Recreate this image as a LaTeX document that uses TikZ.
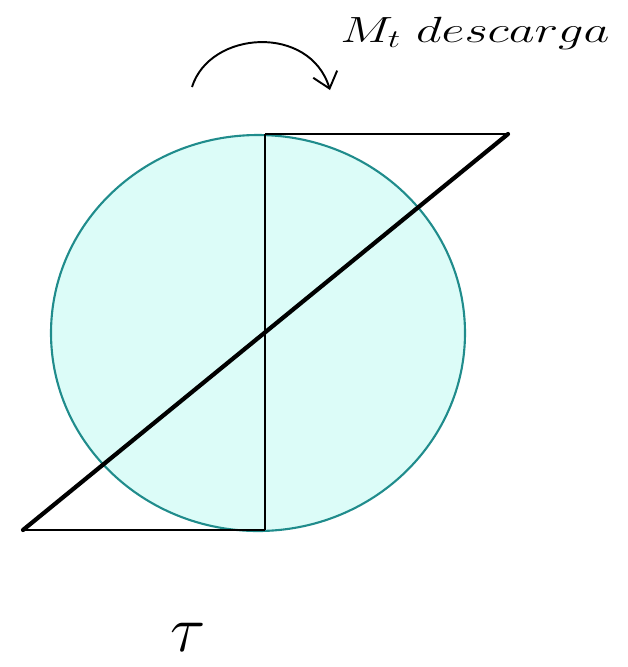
\documentclass[tikz,border=0pt]{standalone}
\usepackage{amsmath,amssymb}
\usepackage{graphicx}
\usepackage{xcolor}
\usetikzlibrary{arrows.meta}

\definecolor{discfill}{RGB}{220,252,248}
\definecolor{discedge}{RGB}{32,140,140}

\begin{document}
\begin{tikzpicture}[x=0.02cm,y=-0.02cm,
    thinline/.style={line width=0.8pt},
    shearline/.style={line width=2.4pt, line cap=round}]
    % fix the frame
    \useasboundingbox (0,0) rectangle (627,667);

    % the disc
    \draw[fill=discfill, draw=discedge, line width=1.2pt] (258,333) ellipse [x radius=207, y radius=198];

    % corners of the stress profile
    \coordinate (tl) at (265,134);
    \coordinate (tr) at (508,134);
    \coordinate (bl) at (23,530);
    \coordinate (br) at (265,530);

    \draw[thinline] (tl) -- (br);
    \draw[thinline] (tl) -- (tr);
    \draw[thinline] (bl) -- (br);
    \draw[shearline] (bl) -- (tr);

    % torque arrow and labels
    \coordinate (arcstart) at (192,87);
    \coordinate (arcend) at (330,90);
    \draw[line width=1.1pt, -{Straight Barb[length=3mm,width=5mm]}] (arcstart) .. controls (210,30) and (310,24) .. (arcend);
    \node[anchor=base west, font=\fontsize{20}{24}\selectfont, inner sep=0pt] (mt) at (340,42) {\scalebox{1.38}[1]{$M_t\ descarga$}};
    \node[font=\fontsize{24}{28}\selectfont, inner sep=0pt] (tau) at (188,637) {\scalebox{1.5}{$\tau$}};
\end{tikzpicture}
\end{document}
